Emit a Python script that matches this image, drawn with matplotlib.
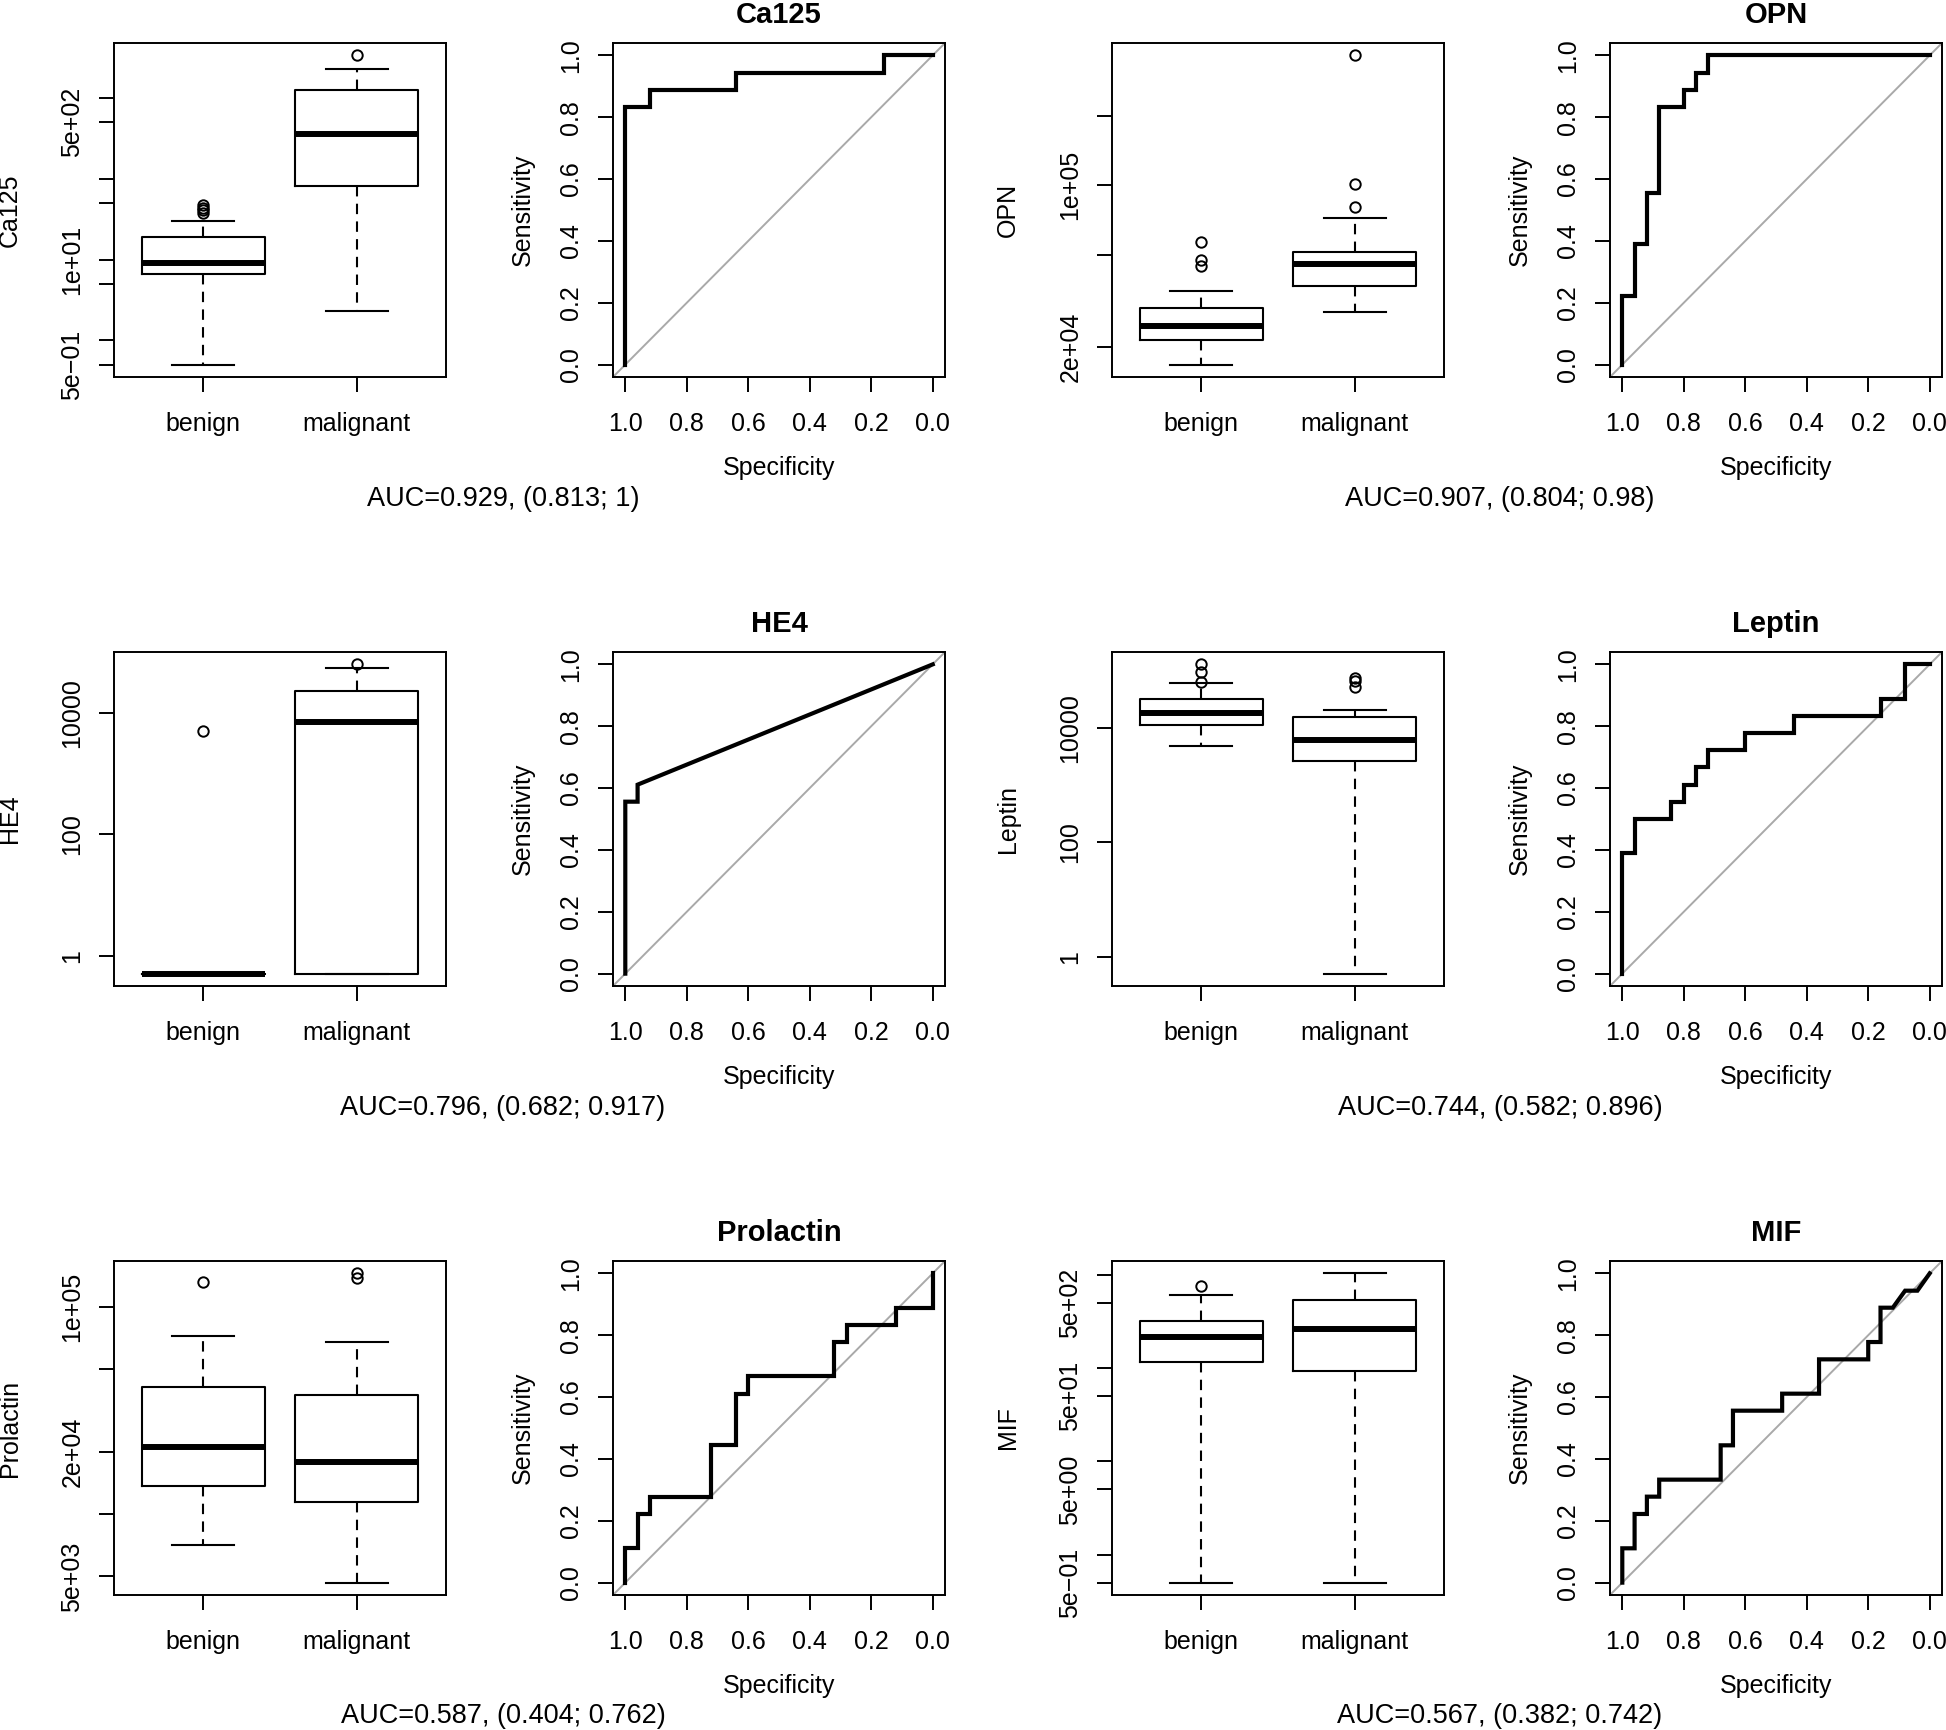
import matplotlib
matplotlib.use('Agg')
import matplotlib.pyplot as plt
import numpy as np
from matplotlib.ticker import NullLocator

plt.rcParams['font.family'] = ['Liberation Sans', 'DejaVu Sans']

# %% Data
markers = ['Ca125', 'OPN', 'HE4', 'Leptin', 'Prolactin', 'MIF']
groups = ['benign', 'malignant']

# box summaries: lower whisker, Q1, median, Q3, upper whisker
ca125_benign = [0.5, 6.6, 9.0, 19.2, 30.3]
ca125_malig = [2.3, 81, 356, 1253, 2254]
ca125_out = [[38, 41, 44, 47], [3360]]

opn_benign = [16700, 21400, 24600, 29400, 34800]
opn_malig = [28250, 36600, 45500, 51300, 71800]
opn_out = [[44500, 47500, 56500], [80400, 101400, 364600]]

he4_benign = [0.51, 0.51, 0.51, 0.51, 0.51]
he4_malig = [0.51, 0.51, 7200, 23300, 55600]
he4_out = [[5100], [63000]]

leptin_benign = [4790, 11130, 18280, 31620, 60900]
leptin_malig = [0.51, 2655, 6260, 15350, 20900]
leptin_out = [[64300, 93500, 128900], [52600, 67000, 74500]]

prolactin_benign = [7080, 13700, 21000, 41100, 72400]
prolactin_malig = [4670, 11460, 17800, 37500, 67600]
prolactin_out = [[131500], [138000, 144800]]

mif_benign = [0.5, 117, 216, 317, 601]
mif_malig = [0.5, 94, 260, 536, 1035]
mif_out = [[750], []]

box_data = [(ca125_benign, ca125_malig, ca125_out),
            (opn_benign, opn_malig, opn_out),
            (he4_benign, he4_malig, he4_out),
            (leptin_benign, leptin_malig, leptin_out),
            (prolactin_benign, prolactin_malig, prolactin_out),
            (mif_benign, mif_malig, mif_out)]

# log axis ticks and labels of each box plot
box_ticks = [[0.5, 1, 5, 10, 50, 100, 500, 1000],
             [2e4, 5e4, 1e5, 2e5],
             [1, 100, 10000],
             [1, 100, 10000],
             [5e3, 1e4, 2e4, 5e4, 1e5],
             [0.5, 1, 5, 10, 50, 100, 500, 1000]]
box_ticklabels = [['5e\u221201', '', '', '1e+01', '', '', '5e+02', ''],
                  ['2e+04', '', '1e+05', ''],
                  ['1', '100', '10000'],
                  ['1', '100', '10000'],
                  ['5e+03', '', '2e+04', '', '1e+05'],
                  ['5e\u221201', '', '5e+00', '', '5e+01', '', '5e+02', '']]

# ROC curve vertices (specificity, sensitivity)
ca125_spec = [1, 1, 0.92, 0.92, 0.64, 0.64, 0.16, 0.16, 0]
ca125_sens = [0, 0.833, 0.833, 0.889, 0.889, 0.944, 0.944, 1, 1]
opn_spec = [1, 1, 0.96, 0.96, 0.92, 0.92, 0.88, 0.88, 0.80, 0.80, 0.76, 0.76,
            0.72, 0.72, 0]
opn_sens = [0, 0.222, 0.222, 0.389, 0.389, 0.556, 0.556, 0.833, 0.833, 0.889,
            0.889, 0.944, 0.944, 1, 1]
he4_spec = [1, 1, 0.96, 0.96, 0]
he4_sens = [0, 0.556, 0.556, 0.611, 1]
leptin_spec = [1, 1, 0.96, 0.96, 0.84, 0.84, 0.80, 0.80, 0.76, 0.76, 0.72,
               0.72, 0.60, 0.60, 0.44, 0.44, 0.16, 0.16, 0.08, 0.08, 0]
leptin_sens = [0, 0.389, 0.389, 0.5, 0.5, 0.556, 0.556, 0.611, 0.611, 0.667,
               0.667, 0.722, 0.722, 0.778, 0.778, 0.833, 0.833, 0.889, 0.889,
               1, 1]
prolactin_spec = [1, 1, 0.96, 0.96, 0.92, 0.92, 0.72, 0.72, 0.64, 0.64, 0.60,
                  0.60, 0.32, 0.32, 0.28, 0.28, 0.12, 0.12, 0, 0]
prolactin_sens = [0, 0.111, 0.111, 0.222, 0.222, 0.278, 0.278, 0.444, 0.444,
                  0.611, 0.611, 0.667, 0.667, 0.778, 0.778, 0.833, 0.833,
                  0.889, 0.889, 1]
mif_spec = [1, 1, 0.96, 0.96, 0.92, 0.92, 0.88, 0.88, 0.68, 0.68, 0.64, 0.64,
            0.48, 0.48, 0.36, 0.36, 0.20, 0.20, 0.16, 0.16, 0.12, 0.08, 0.04, 0]
mif_sens = [0, 0.111, 0.111, 0.222, 0.222, 0.278, 0.278, 0.333, 0.333, 0.444,
            0.444, 0.556, 0.556, 0.611, 0.611, 0.722, 0.722, 0.778, 0.778,
            0.889, 0.889, 0.944, 0.944, 1]
roc_data = [(ca125_spec, ca125_sens), (opn_spec, opn_sens),
            (he4_spec, he4_sens), (leptin_spec, leptin_sens),
            (prolactin_spec, prolactin_sens), (mif_spec, mif_sens)]

auc_labels = ['AUC=0.929, (0.813; 1)', 'AUC=0.907, (0.804; 0.98)',
              'AUC=0.796, (0.682; 0.917)', 'AUC=0.744, (0.582; 0.896)',
              'AUC=0.587, (0.404; 0.762)', 'AUC=0.567, (0.382; 0.742)']
roc_ticks = [0.0, 0.2, 0.4, 0.6, 0.8, 1.0]

# %% Figure layout (pixel positions of the panels)
W, H = 1946, 1730
fig = plt.figure(figsize=(W / 100, H / 100), dpi=100)
col_left = [114, 613, 1112, 1610]
row_top = [43, 652, 1261]
pw, ph = 332, 334
auc_x = [503, 1500]
auc_y = [499, 1108, 1716]
fs = 18


def make_axes(col, row):
    x0 = col_left[col]
    y0 = row_top[row]
    ax = fig.add_axes([x0 / W, 1 - (y0 + ph) / H, pw / W, ph / H])
    for s in ax.spines.values():
        s.set_linewidth(1.4)
    ax.tick_params(direction='out', length=10.8, width=1.4, labelsize=fs,
                   top=False, right=False)
    ax.tick_params(axis='x', pad=14.5)
    ax.tick_params(axis='y', pad=10.5, labelrotation=90)
    return ax


for i, name in enumerate(markers):
    row = i // 2
    pair = i % 2
    benign, malig, outs = box_data[i]

    # Box plot
    ax = make_axes(2 * pair, row)
    stats = []
    for g, s, fl in zip(groups, (benign, malig), outs):
        stats.append(dict(whislo=s[0], q1=s[1], med=s[2], q3=s[3],
                          whishi=s[4], fliers=fl, label=g))
    ax.bxp(stats, positions=[1, 2], widths=0.8, capwidths=0.4,
           boxprops=dict(color='black', lw=1.5),
           whiskerprops=dict(color='black', lw=1.5, linestyle=(0, (5, 3.5))),
           capprops=dict(color='black', lw=1.5),
           medianprops=dict(color='black', lw=4.3, solid_capstyle='butt'),
           flierprops=dict(marker='o', markerfacecolor='none',
                           markeredgecolor='black', markersize=7.5,
                           markeredgewidth=1.4))
    ax.set_yscale('log')
    allv = np.log10(benign + malig + outs[0] + outs[1])
    lo, hi = allv.min(), allv.max()
    d = 0.04 * (hi - lo)
    ax.set_ylim(10 ** (lo - d), 10 ** (hi + d))
    ax.set_xlim(0.42, 2.58)
    ax.set_yticks(box_ticks[i])
    ax.set_yticklabels(box_ticklabels[i])
    ax.yaxis.set_minor_locator(NullLocator())
    ax.set_xticks([1, 2])
    ax.set_xticklabels(groups)
    for lab in ax.get_yticklabels():
        lab.set_va('center')
    ax.set_ylabel(name, fontsize=fs, va='center')
    ax.yaxis.set_label_coords(-104 / pw, 0.5)

    # ROC curve
    ax = make_axes(2 * pair + 1, row)
    spec, sens = roc_data[i]
    ax.axline((1, 0), (0, 1), color='#a9a9a9', lw=1.4, zorder=1)
    ax.plot(spec, sens, color='black', lw=3.0, solid_joinstyle='miter',
            zorder=2)
    ax.set_xlim(1.04, -0.04)
    ax.set_ylim(-0.04, 1.04)
    ax.set_xticks(roc_ticks)
    ax.set_xticklabels(['%.1f' % t for t in roc_ticks])
    ax.set_yticks(roc_ticks)
    ax.set_yticklabels(['%.1f' % t for t in roc_ticks])
    for lab in ax.get_yticklabels():
        lab.set_va('center')
    ax.set_title(name, fontsize=21, fontweight='bold', pad=14.4)
    ax.set_xlabel('Specificity', fontsize=fs, va='center')
    ax.xaxis.set_label_coords(0.5, -91 / ph)
    ax.set_ylabel('Sensitivity', fontsize=fs, va='center')
    ax.yaxis.set_label_coords(-90 / pw, 0.5)

    # AUC text under the pair
    fig.text(auc_x[pair] / W, 1 - auc_y[row] / H, auc_labels[i],
             fontsize=19.5, ha='center', va='center')

fig.savefig('out.png', dpi=100, facecolor='white')
